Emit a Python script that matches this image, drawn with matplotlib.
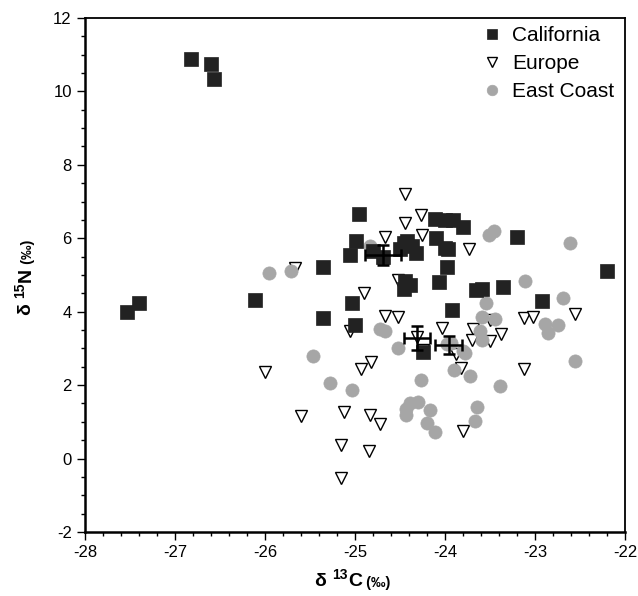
import matplotlib
matplotlib.use("Agg")
import matplotlib.pyplot as plt
from matplotlib.ticker import MultipleLocator

plt.rcParams["font.family"] = ["Liberation Sans", "DejaVu Sans"]
plt.rcParams["axes.unicode_minus"] = False

# ── data (d13C, d15N) ────────────────────────────────────────────────────
cal_x = [-26.82, -26.60, -26.57, -27.53, -27.40, -26.11, -25.35, -25.36, -25.03, -25.00,
         -24.96, -24.99, -25.06, -24.80, -24.46, -24.42, -24.37, -24.50, -24.32, -24.44,
         -24.39, -24.46, -24.11, -24.00, -23.91, -23.80, -24.10, -24.00, -23.97, -23.98,
         -24.07, -23.65, -23.59, -23.35, -23.92, -23.20, -22.92, -22.20, -24.24, -24.69]
cal_y = [10.87, 10.74, 10.34, 3.99, 4.23, 4.31, 5.23, 3.83, 4.23, 3.63,
         6.65, 5.92, 5.54, 5.65, 5.88, 5.92, 5.80, 5.70, 5.61, 4.83,
         4.74, 4.62, 6.52, 6.49, 6.49, 6.31, 6.00, 5.74, 5.70, 5.21,
         4.80, 4.58, 4.62, 4.67, 4.05, 6.03, 4.29, 5.10, 2.90, 5.49]

eur_x = [-24.44, -24.27, -24.44, -24.67, -24.26, -23.73, -25.67, -24.52, -24.90, -25.06,
         -24.67, -24.52, -24.03, -23.69, -23.70, -23.50, -23.38, -23.50, -23.12, -23.02,
         -22.55, -24.24, -23.88, -23.82, -23.12, -26.00, -24.93, -24.82, -25.60, -25.12,
         -24.83, -24.72, -25.15, -24.84, -25.16, -23.80, -24.31]
eur_y = [7.20, 6.64, 6.42, 6.03, 6.10, 5.72, 5.18, 4.86, 4.50, 3.47,
         3.88, 3.85, 3.56, 3.54, 3.24, 3.20, 3.38, 3.78, 3.83, 3.85,
         3.93, 2.95, 2.84, 2.47, 2.44, 2.37, 2.44, 2.63, 1.17, 1.28,
         1.20, 0.93, 0.38, 0.20, -0.53, 0.74, 3.30]

east_x = [-25.96, -25.71, -24.83, -23.51, -23.46, -22.61, -23.11, -22.69, -23.54, -23.59,
          -23.44, -22.89, -22.85, -22.74, -24.72, -24.67, -23.61, -23.59, -24.52, -23.98,
          -23.93, -23.80, -23.78, -23.90, -23.72, -24.27, -22.56, -23.39, -25.47, -25.28,
          -25.03, -24.39, -24.43, -24.43, -24.30, -24.17, -24.20, -24.11, -23.64, -23.67]
east_y = [5.06, 5.11, 5.78, 6.10, 6.21, 5.88, 4.85, 4.38, 4.23, 3.86,
          3.79, 3.67, 3.42, 3.63, 3.52, 3.47, 3.47, 3.23, 3.02, 3.12,
          3.15, 2.93, 2.88, 2.40, 2.26, 2.15, 2.65, 1.99, 2.78, 2.06,
          1.88, 1.52, 1.35, 1.20, 1.55, 1.31, 0.97, 0.71, 1.41, 1.02]

# group means with standard errors (California, Europe, East Coast)
mean_x = [-24.69, -24.31, -23.96]
mean_y = [5.55, 3.29, 3.09]
err_x = [0.20, 0.14, 0.15]
err_y = [0.27, 0.32, 0.25]

DARK = "#222222"
GREY = "#a6a6a6"

fig = plt.figure(figsize=(6.38, 5.96), dpi=100)
ax = fig.add_axes([0.1332, 0.1074, 0.8464, 0.8624])

h_eur, = ax.plot(eur_x, eur_y, "v", ms=8.5, mfc="white", mec="black", mew=1.0,
                 ls="none", zorder=2, label="Europe")
h_east, = ax.plot(east_x, east_y, "o", ms=9.5, mfc=GREY, mec=GREY, mew=0.5,
                  ls="none", zorder=3, label="East Coast")
h_cal, = ax.plot(cal_x, cal_y, "s", ms=9.5, mfc=DARK, mec=DARK, mew=0.5,
                 ls="none", zorder=4, label="California")

ax.errorbar(mean_x, mean_y, xerr=err_x, yerr=err_y, fmt="none", ecolor="black",
            elinewidth=1.8, capsize=4, capthick=1.8, zorder=6)

ax.set_xlim(-28, -22)
ax.set_ylim(-2, 12)
ax.xaxis.set_major_locator(MultipleLocator(1))
ax.xaxis.set_minor_locator(MultipleLocator(0.2))
ax.yaxis.set_major_locator(MultipleLocator(2))
ax.yaxis.set_minor_locator(MultipleLocator(0.5))
ax.tick_params(which="both", direction="out", top=False, right=False,
               labelsize=12, width=1.0)
ax.tick_params(which="major", length=6)
ax.tick_params(which="minor", length=3)
for side in ["left", "bottom"]:
    ax.spines[side].set_linewidth(1.8)
for side in ["top", "right"]:
    ax.spines[side].set_linewidth(1.3)

leg = ax.legend([h_cal, h_eur, h_east], ["California", "Europe", "East Coast"],
                loc="upper right", frameon=False, fontsize=15, markerscale=0.8,
                handletextpad=0.45, labelspacing=0.42, borderaxespad=0.0,
                handlelength=1.0, bbox_to_anchor=(0.995, 1.0))

# ── axis labels built from pieces: delta, superscript mass number, element, (‰)
bold = dict(fontweight="bold", color="black")

c = ax.text(0.5, -0.105, "C", transform=ax.transAxes, ha="center", va="baseline",
            fontsize=14, **bold)
sup = ax.annotate("13", xy=(0, 0.45), xycoords=c, ha="right", va="bottom",
                  fontsize=10, **bold)
ax.annotate("δ ", xy=(0, 0), xycoords=(sup, c), ha="right", va="bottom",
            fontsize=14, **bold)
ax.annotate(" (‰)", xy=(1, 0), xycoords=c, ha="left", va="bottom",
            fontsize=10.5, **bold)

n = ax.text(-0.108, 0.5, "N", transform=ax.transAxes, ha="center", va="center",
            rotation=90, fontsize=14, **bold)
sup = ax.annotate("15", xy=(0.55, 0), xycoords=n, ha="right", va="top",
                  rotation=90, fontsize=10, **bold)
ax.annotate("δ ", xy=(0, 0), xycoords=(n, sup), ha="left", va="top",
            rotation=90, fontsize=14, **bold)
ax.annotate(" (‰)", xy=(1, 1), xycoords=n, ha="right", va="bottom",
            rotation=90, fontsize=10.5, **bold)

fig.savefig("out.png", dpi=100)
